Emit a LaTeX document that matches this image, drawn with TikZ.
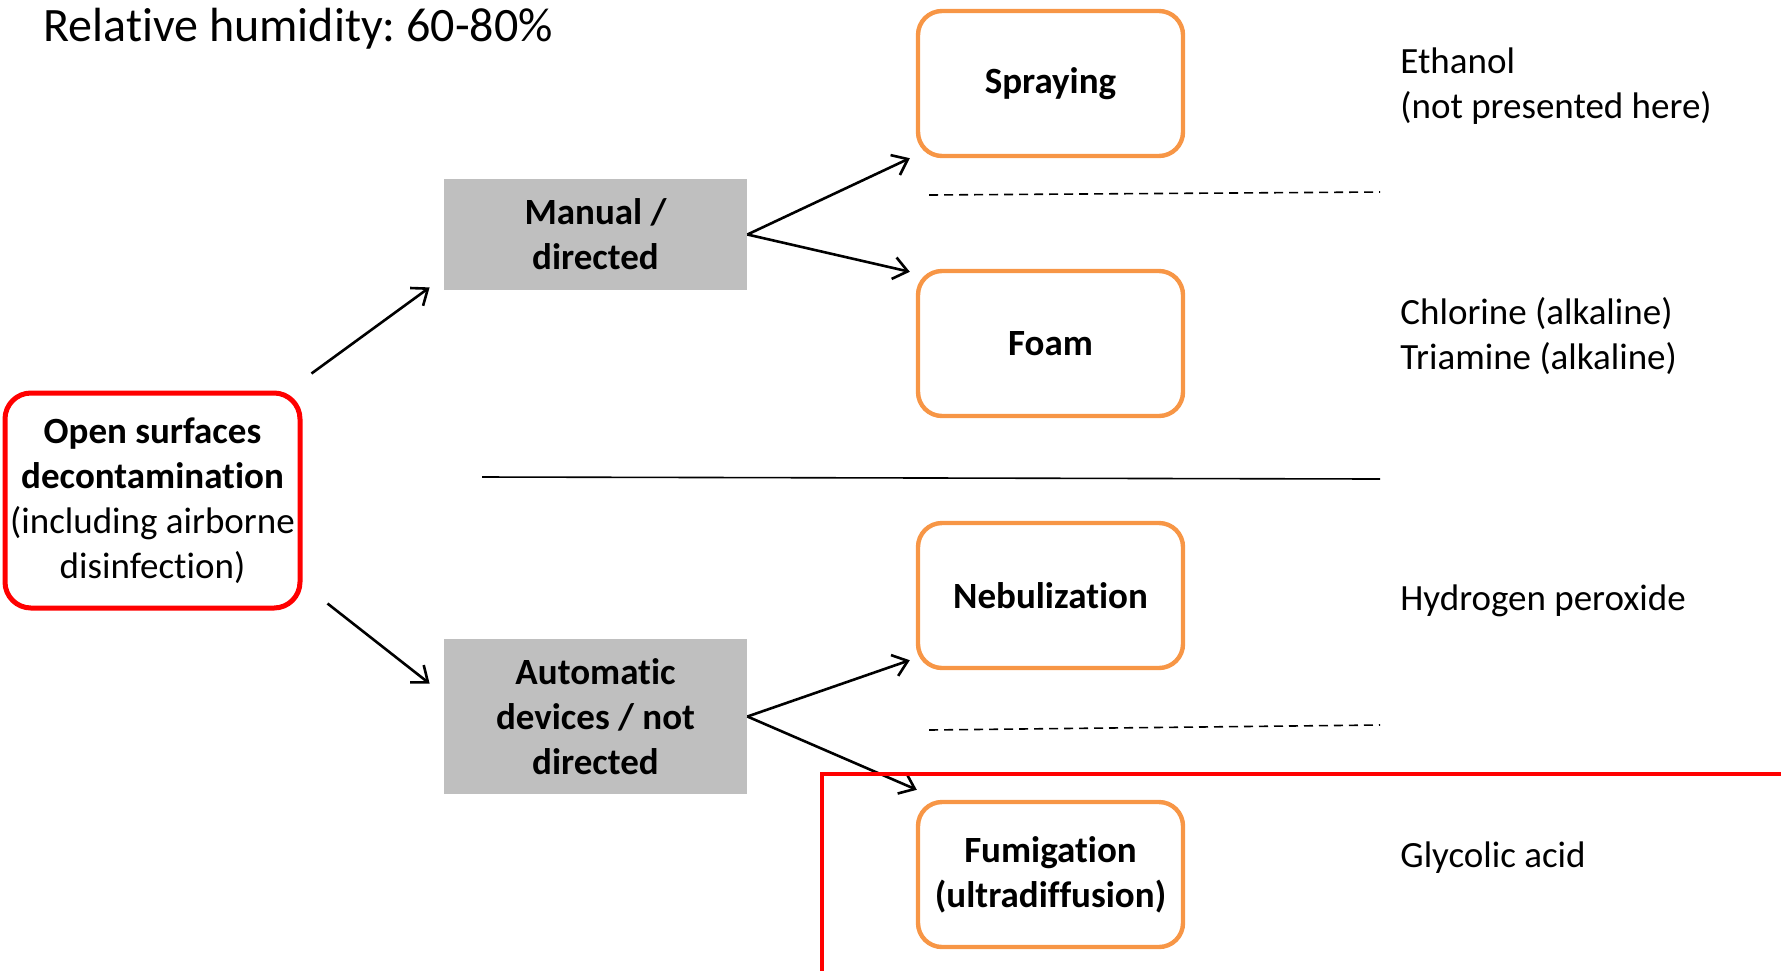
\documentclass[tikz,border=0pt]{standalone}
\usepackage{fontspec}
\setmainfont[Ligatures={NoCommon,NoContextual},Contextuals=NoAlternate]{Carlito}
\usetikzlibrary{arrows.meta,calc}
\definecolor{boxred}{HTML}{FF0000}
\definecolor{boxgrey}{HTML}{BFBFBF}
\definecolor{boxorange}{HTML}{F79646}
\newcommand\nolti{t\kern0pt i}
\frenchspacing
\tikzset{
  txt/.style={font=\fontsize{18.5}{22.4}\selectfont},
  rbox/.style={txt, draw=boxred, line width=2.5pt, rounded corners=13pt, minimum width=147.5pt, minimum height=107.5pt, align=center, inner sep=0pt},
  gbox/.style={txt, fill=boxgrey, minimum width=151.5pt, align=center, inner sep=0pt, font=\fontsize{18.5}{22.4}\selectfont\bfseries},
  obox/.style={txt, draw=boxorange, line width=2.2pt, rounded corners=12pt, minimum width=132.5pt, minimum height=72.5pt, align=center, inner sep=0pt, font=\fontsize{18.5}{22.4}\selectfont\bfseries},
  arr/.style={-{Straight Barb[length=7pt,width=11pt]}, line width=1.3pt},
  rtext/.style={txt, anchor=west, align=left, inner sep=0pt},
  sep/.style={line width=0.8pt},
  dsep/.style={line width=0.8pt, dash pattern=on 4.5pt off 3pt}
}
\begin{document}
\begin{tikzpicture}[x=0.5pt,y=-0.5pt]
\clip (0,0) rectangle (1781,970);
\useasboundingbox (0,0) rectangle (1781,970);

\node[anchor=base west, inner sep=0pt, font=\fontsize{24}{29}\selectfont] (title) at (43,41) {Relative humidity: 60-80\%};

\node[rbox] (open) at (152.5,500.5) {\textbf{Open surfaces}\\\textbf{decontamina\nolti on}\\(including airborne\\disinfec\nolti on)};

\node[gbox, minimum height=55.5pt] (manual) at (595.5,234.5) {Manual /\\directed};
\node[gbox, minimum height=77.5pt] (auto) at (595.5,716.5) {Automa\nolti c\\devices / not\\directed};

\node[obox] (spray) at (1050.5,83.5) {Spraying};
\node[obox] (foam) at (1050.5,343.5) {Foam};
\node[obox] (neb) at (1050.5,595.5) {Nebuliza\nolti on};
\node[obox] (fum) at (1050.5,874.5) {Fumiga\nolti on\\(ultradiffusion)};

\draw[arr] ($(open.north east)+(9,-17)$) -- ($(manual.south west)+(-14,-3)$);
\draw[arr] ($(open.south east)+(25,-7)$) -- ($(auto.north west)+(-14,45)$);
\draw[arr] (manual.east) -- ($(spray.south west)+(-6,0)$);
\draw[arr] (manual.east) -- ($(foam.north west)+(-6,3)$);
\draw[arr] (auto.east) -- ($(neb.south west)+(-6,-10)$);
\draw[arr] (auto.east) -- ($(fum.north west)+(1,-10)$);

\draw[dsep] (929,195) -- (1380,192);
\draw[sep] (482,477) -- (1380,479);
\draw[dsep] (929,730) -- (1380,725);

\draw[boxred, line width=2.4pt] (822,1000) -- (822,774) -- (1800,774);

\node[rtext] (t1) at (1400,86) {Ethanol\\(not presented here)};
\node[rtext] (t2) at (1400,336) {Chlorine (alkaline)\\Triamine (alkaline)};
\node[rtext] (t3) at (1400,601) {Hydrogen peroxide};
\node[rtext] (t4) at (1400,858) {Glycolic acid};
\end{tikzpicture}
\end{document}
